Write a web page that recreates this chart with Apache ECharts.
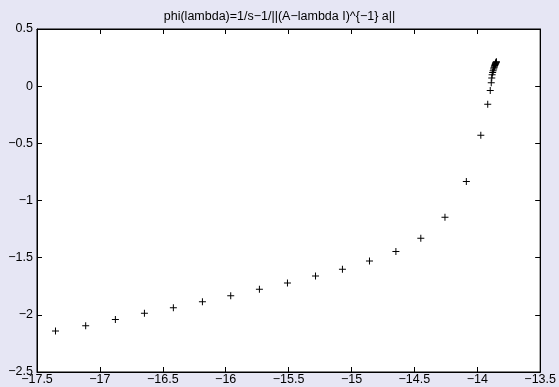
<!DOCTYPE html>
<html>
<head>
<meta charset="utf-8">
<script src="https://cdn.jsdelivr.net/npm/echarts@6/dist/echarts.min.js"></script>
<style>
  html, body { margin: 0; padding: 0; background: #e6e6f4; }
  #main { width: 559px; height: 387px; }
</style>
</head>
<body>
<div id="main"></div>
<script>
// values
var lambdaVals = [-17.353, -17.113, -16.877, -16.646, -16.416, -16.185, -15.960, -15.732,
  -15.509, -15.286, -15.072, -14.857, -14.647, -14.449, -14.257, -14.087, -13.972,
  -13.917, -13.897, -13.889, -13.885, -13.882, -13.878, -13.874, -13.870, -13.867,
  -13.864, -13.861, -13.858, -13.856, -13.854, -13.852, -13.850, -13.848];
var phiVals = [-2.142, -2.096, -2.040, -1.987, -1.938, -1.886, -1.833, -1.777,
  -1.722, -1.661, -1.602, -1.530, -1.445, -1.331, -1.147, -0.834, -0.430,
  -0.159, -0.038, 0.030, 0.071, 0.100, 0.120, 0.135, 0.150, 0.160,
  0.170, 0.180, 0.190, 0.195, 0.200, 0.205, 0.210, 0.214];

var titleText = 'phi(lambda)=1/s\u22121/||(A\u2212lambda I)^{\u22121} a||';

var pts = [];
for (var i = 0; i < lambdaVals.length; i++) {
  pts.push([lambdaVals[i], phiVals[i]]);
}

function minus(v) {
  return String(v).replace('-', '\u2212');
}

var font = '"Liberation Sans", Arial, Helvetica, sans-serif';
var plus = 'path://M3,0h1v3h3v1h-3v3h-1v-3h-3v-1h3z';

var myChart = echarts.init(document.getElementById('main'));
myChart.setOption({
  backgroundColor: '#e6e6f4',
  animation: false,
  title: {
    text: titleText,
    left: 'center',
    top: 5,
    textStyle: { fontFamily: font, fontSize: 12.5, fontWeight: 'normal', color: '#000' }
  },
  grid: {
    left: 37, right: 13, top: 29, bottom: 15,
    show: true,
    backgroundColor: '#fff',
    borderColor: '#000',
    borderWidth: 1
  },
  xAxis: [{
    type: 'value', min: -17.5, max: -13.5, interval: 0.5,
    axisLine: { show: true, onZero: false, lineStyle: { color: '#000' } },
    axisTick: { inside: true, length: 5, lineStyle: { color: '#000' } },
    splitLine: { show: false },
    axisLabel: { color: '#000', fontFamily: font, fontSize: 12.5, margin: 1, formatter: minus, showMinLabel: true, showMaxLabel: true }
  }, {
    type: 'value', position: 'top', min: -17.5, max: -13.5, interval: 0.5,
    axisLine: { show: true, onZero: false, lineStyle: { color: '#000' } },
    axisTick: { inside: true, length: 5, lineStyle: { color: '#000' } },
    splitLine: { show: false },
    axisLabel: { show: false }
  }],
  yAxis: [{
    type: 'value', min: -2.5, max: 0.5, interval: 0.5,
    axisLine: { show: true, onZero: false, lineStyle: { color: '#000' } },
    axisTick: { inside: true, length: 5, lineStyle: { color: '#000' } },
    splitLine: { show: false },
    axisLabel: { color: '#000', fontFamily: font, fontSize: 12.5, margin: 4, formatter: minus, showMinLabel: true, showMaxLabel: true }
  }, {
    type: 'value', position: 'right', min: -2.5, max: 0.5, interval: 0.5,
    axisLine: { show: true, onZero: false, lineStyle: { color: '#000' } },
    axisTick: { inside: true, length: 5, lineStyle: { color: '#000' } },
    splitLine: { show: false },
    axisLabel: { show: false }
  }],
  series: [{
    type: 'scatter',
    xAxisIndex: 0,
    yAxisIndex: 0,
    symbol: plus,
    symbolSize: 7,
    itemStyle: { color: '#000', opacity: 1 },
    data: pts
  }]
});
</script>
</body>
</html>
